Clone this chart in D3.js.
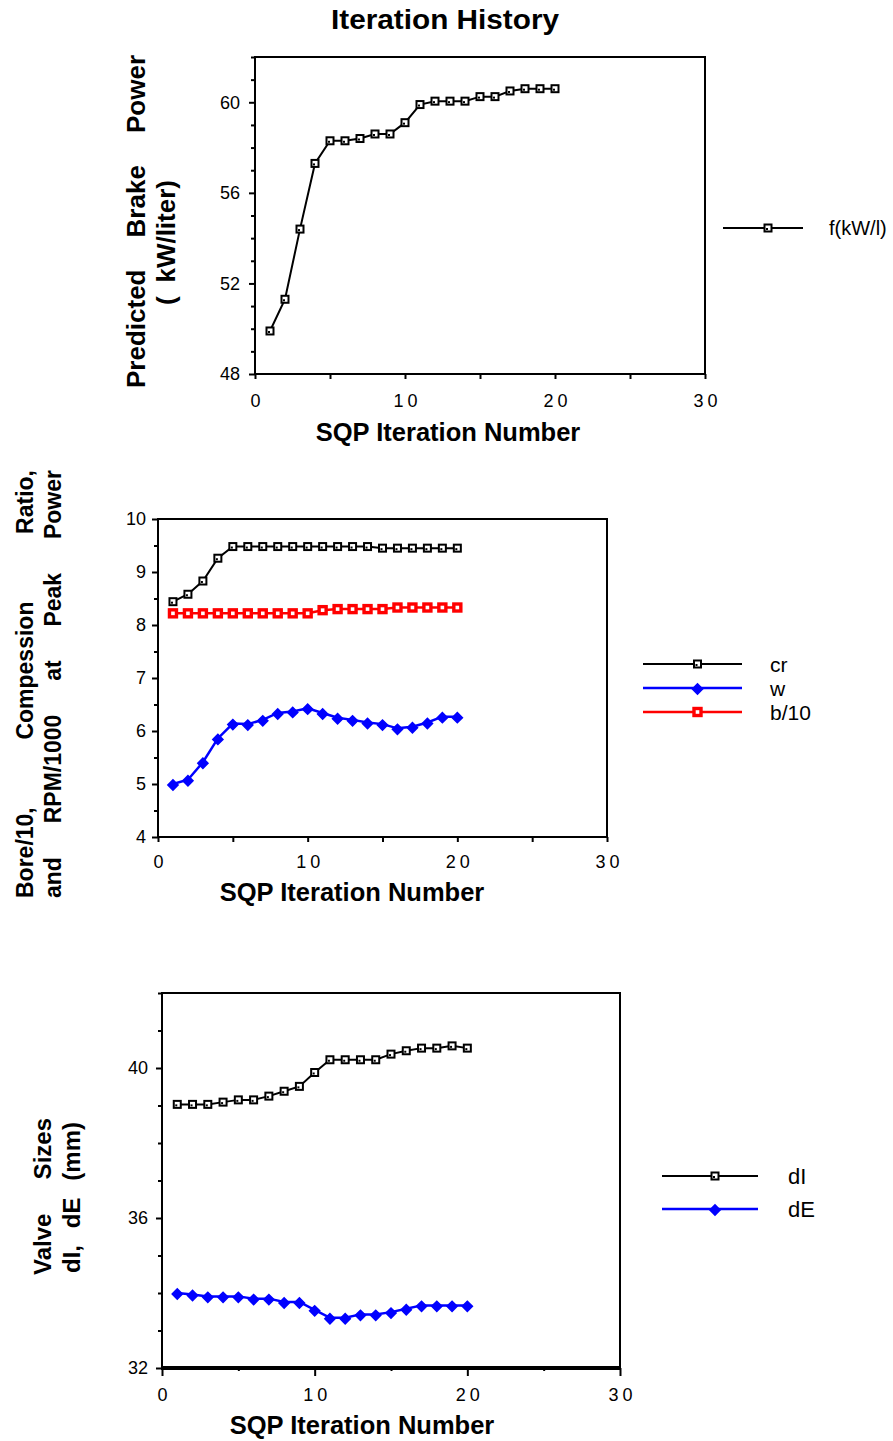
<!DOCTYPE html>
<html lang="en">
<head>
<meta charset="UTF-8">
<title>Iteration History</title>
<style>
  body { margin: 0; background: #fff; }
  svg text { font-family: "Liberation Sans", Arial, Helvetica, sans-serif; fill: #000; }
  .bold { font-weight: bold; }
  .tick line { stroke: #000; stroke-width: 2; }
  .domain { display: none; }
</style>
</head>
<body>
<svg id="chart" width="893" height="1441"></svg>
<script src="https://cdnjs.cloudflare.com/ajax/libs/d3/7.8.5/d3.min.js"></script>
<script>
// iteration numbers (x for every series)
var iterations = [1, 2, 3, 4, 5, 6, 7, 8, 9, 10, 11, 12, 13, 14, 15, 16, 17, 18, 19, 20];

// panel 1 : predicted brake power, kW/liter
var brakePower = [49.9, 51.3, 54.4, 57.3, 58.3, 58.3, 58.4, 58.6, 58.6, 59.1,
                  59.9, 60.05, 60.05, 60.05, 60.25, 60.25, 60.5, 60.6, 60.6, 60.6];

// panel 2 : compression ratio, rpm/1000, bore/10
var compRatio = [8.44, 8.58, 8.83, 9.26, 9.48, 9.48, 9.48, 9.48, 9.48, 9.48,
                 9.48, 9.48, 9.48, 9.48, 9.45, 9.45, 9.45, 9.45, 9.45, 9.45];
var rpm1000 = [5.0, 5.08, 5.41, 5.86, 6.14, 6.13, 6.21, 6.34, 6.37, 6.43,
               6.34, 6.25, 6.21, 6.16, 6.13, 6.05, 6.08, 6.16, 6.27, 6.27];
var bore10 = [8.22, 8.22, 8.22, 8.22, 8.22, 8.22, 8.22, 8.22, 8.22, 8.22,
              8.28, 8.30, 8.30, 8.30, 8.30, 8.33, 8.33, 8.33, 8.33, 8.33];

// panel 3 : valve sizes, mm
var intakeValve = [39.03, 39.03, 39.03, 39.09, 39.15, 39.15, 39.25, 39.38, 39.51, 39.88,
                   40.22, 40.22, 40.22, 40.22, 40.37, 40.46, 40.53, 40.53, 40.59, 40.53];
var exhaustValve = [34.0, 33.96, 33.91, 33.91, 33.91, 33.85, 33.85, 33.76, 33.76, 33.55,
                    33.34, 33.34, 33.43, 33.43, 33.49, 33.58, 33.67, 33.67, 33.67, 33.67];

// tick labels
var xTicks = [0, 10, 20, 30];
var xMinorTicks = [5, 15, 25];
var powerTicks = [48, 52, 56, 60];
var midTicks = [4, 5, 6, 7, 8, 9, 10];
var valveTicks = [32, 36, 40];

var svg = d3.select("#chart");

function pts(values) {
    return iterations.map(function (it, i) { return { x: it, y: values[i] }; });
}

function drawPanel(p) {
    var x = d3.scaleLinear().domain([0, 30]).range([p.left, p.right]);
    var y = d3.scaleLinear().domain(p.yDomain).range([p.bottom, p.top]);

    // frame
    svg.append("rect")
        .attr("x", p.left).attr("y", p.top)
        .attr("width", p.right - p.left).attr("height", p.bottom - p.top)
        .attr("fill", "none").attr("stroke", "#000").attr("stroke-width", 2);
    svg.append("line")
        .attr("x1", p.left - 1).attr("x2", p.right + 1)
        .attr("y1", p.bottom).attr("y2", p.bottom)
        .attr("stroke", "#000").attr("stroke-width", p.xAxisWidth);

    // x axis
    var gx = svg.append("g").attr("transform", "translate(0," + p.bottom + ")")
        .call(d3.axisBottom(x).tickValues(xTicks).tickSize(p.xTickLen).tickPadding(p.xPad));
    gx.selectAll("text").attr("font-size", p.tickFont).attr("letter-spacing", 4).attr("dx", 2);
    svg.append("g").attr("transform", "translate(0," + p.bottom + ")")
        .call(d3.axisBottom(x).tickValues(xMinorTicks).tickSize(p.xMinorLen).tickFormat(""));

    // y axis
    var gy = svg.append("g").attr("transform", "translate(" + p.left + ",0)")
        .call(d3.axisLeft(y).tickValues(p.yTicks).tickSize(6).tickPadding(p.yPad)
            .tickFormat(d3.format("d")));
    gy.selectAll("text").attr("font-size", p.tickFont);
    var minor = d3.range(p.yDomain[0], p.yDomain[1] + 0.001, p.minorStep)
        .filter(function (v) { return p.yTicks.indexOf(v) < 0; });
    svg.append("g").attr("transform", "translate(" + p.left + ",0)")
        .call(d3.axisLeft(y).tickValues(minor).tickSize(4).tickFormat(""));

    // x title
    svg.append("text").attr("class", "bold")
        .attr("x", p.xTitleX).attr("y", p.xTitleY)
        .attr("text-anchor", "middle").attr("font-size", 25.5)
        .text("SQP Iteration Number");

    return { x: x, y: y };
}

function drawLine(sc, values, color, width) {
    var line = d3.line().x(function (d) { return sc.x(d.x); }).y(function (d) { return sc.y(d.y); });
    svg.append("path").datum(pts(values))
        .attr("d", line).attr("fill", "none")
        .attr("stroke", color).attr("stroke-width", width);
}

function openSquare(g, cx, cy) {
    g.append("rect").attr("x", cx - 3.5).attr("y", cy - 3.5)
        .attr("width", 7).attr("height", 7)
        .attr("fill", "#fff").attr("stroke", "#000").attr("stroke-width", 2);
    g.append("rect").attr("x", cx - 2).attr("y", cy).attr("width", 2).attr("height", 2).attr("fill", "#000");
}
function redSquare(g, cx, cy) {
    g.append("rect").attr("x", cx - 3.5).attr("y", cy - 3.5)
        .attr("width", 7).attr("height", 7)
        .attr("fill", "#fff").attr("stroke", "#ff0000").attr("stroke-width", 3.4);
}
function blueDiamond(g, cx, cy) {
    // square turned 45 degrees
    g.append("path").attr("d", d3.symbol().type(d3.symbolSquare).size(52)())
        .attr("transform", "translate(" + cx + "," + (cy + 1) + ") rotate(45)")
        .attr("fill", "#0000ff").attr("stroke", "#0000ff").attr("stroke-width", 1.5);
}

function drawMarks(sc, values, marker) {
    var g = svg.append("g");
    pts(values).forEach(function (d) { marker(g, sc.x(d.x), sc.y(d.y)); });
}

function legendRow(x1, x2, y, color, width, marker, label, font, textGap) {
    svg.append("line").attr("x1", x1).attr("x2", x2).attr("y1", y).attr("y2", y)
        .attr("stroke", color).attr("stroke-width", width);
    marker(svg.append("g"), (x1 + x2) / 2 + 5, y);
    svg.append("text").attr("x", x2 + textGap).attr("y", y).attr("dy", "0.36em")
        .attr("font-size", font).text(label);
}

// rotated, justified y title line
function justified(words, cx, yLow, yHigh, size) {
    var g = svg.append("g").attr("transform", "translate(" + cx + "," + yLow + ") rotate(-90)");
    var nodes = words.map(function (w) {
        return g.append("text").attr("class", "bold").attr("font-size", size)
            .attr("dy", "0.36em").text(w);
    });
    var widths = nodes.map(function (n) { return n.node().getComputedTextLength(); });
    var gap = words.length > 1 ? (yLow - yHigh - d3.sum(widths)) / (words.length - 1) : 0;
    var pos = 0;
    nodes.forEach(function (n, i) { n.attr("x", pos); pos += widths[i] + gap; });
}

// title
svg.append("text").attr("class", "bold")
    .attr("x", 445).attr("y", 29).attr("text-anchor", "middle")
    .attr("font-size", 27).attr("textLength", 228).attr("lengthAdjust", "spacingAndGlyphs")
    .text("Iteration History");

// ---- panel 1
var s1 = drawPanel({
    left: 255, right: 705, top: 57, bottom: 374, yDomain: [48, 62], yTicks: powerTicks,
    minorStep: 1, tickFont: 18, xPad: 15, yPad: 9, xTickLen: 5, xMinorLen: 5, xAxisWidth: 2,
    xTitleX: 448, xTitleY: 441
});
drawLine(s1, brakePower, "#000", 2);
drawMarks(s1, brakePower, openSquare);
legendRow(723, 803, 228, "#000", 2, openSquare, "f(kW/l)", 20, 26);
justified(["Predicted", "Brake", "Power"], 136, 388, 55, 26);
justified(["(", "kW/liter)"], 166, 305, 180, 26);

// ---- panel 2
var s2 = drawPanel({
    left: 158, right: 607, top: 519, bottom: 837, yDomain: [4, 10], yTicks: midTicks,
    minorStep: 0.5, tickFont: 18, xPad: 13, yPad: 6, xTickLen: 5, xMinorLen: 5, xAxisWidth: 2,
    xTitleX: 352, xTitleY: 901
});
drawLine(s2, compRatio, "#000", 2);
drawMarks(s2, compRatio, openSquare);
drawLine(s2, bore10, "#ff0000", 2.5);
drawMarks(s2, bore10, redSquare);
drawLine(s2, rpm1000, "#0000ff", 2.5);
drawMarks(s2, rpm1000, blueDiamond);
legendRow(643, 742, 664, "#000", 2, openSquare, "cr", 21, 28);
legendRow(643, 742, 688, "#0000ff", 2.5, blueDiamond, "w", 21, 28);
legendRow(643, 742, 712, "#ff0000", 2.5, redSquare, "b/10", 21, 28);
justified(["Bore/10,", "Compession", "Ratio,"], 25, 898, 470, 23);
justified(["and", "RPM/1000", "at", "Peak", "Power"], 53, 898, 470, 23);

// ---- panel 3
var s3 = drawPanel({
    left: 162, right: 620, top: 993, bottom: 1368, yDomain: [32, 42], yTicks: valveTicks,
    minorStep: 1, tickFont: 18, xPad: 12, yPad: 8, xTickLen: 8, xMinorLen: 3, xAxisWidth: 4,
    xTitleX: 362, xTitleY: 1434
});
drawLine(s3, intakeValve, "#000", 2);
drawMarks(s3, intakeValve, openSquare);
drawLine(s3, exhaustValve, "#0000ff", 2.5);
drawMarks(s3, exhaustValve, blueDiamond);
legendRow(662, 758, 1176, "#000", 2, openSquare, "dI", 22, 30);
legendRow(662, 758, 1209, "#0000ff", 2.5, blueDiamond, "dE", 22, 30);
justified(["Valve", "Sizes"], 42, 1275, 1118, 24);
justified(["dI,", "dE", "(mm)"], 71, 1273, 1122, 24);
</script>
</body>
</html>
